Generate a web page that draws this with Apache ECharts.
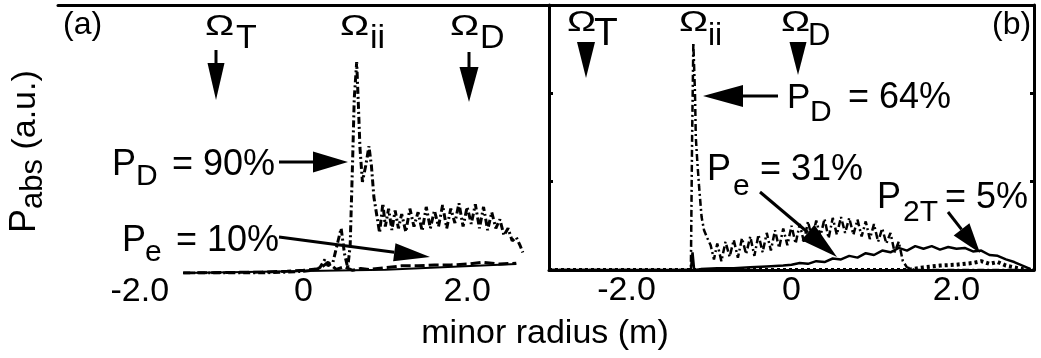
<!DOCTYPE html>
<html>
<head>
<meta charset="utf-8">
<script src="https://cdn.jsdelivr.net/npm/echarts@6/dist/echarts.min.js"></script>
<style>
  html, body { margin: 0; padding: 0; background: #fff; }
  #chart { width: 1041px; height: 358px; }
</style>
</head>
<body>
<div id="chart"></div>
<script>
// tick labels (both panels)
const tickVals = [-2, 0, 2];
const tickLabels = ["-2.0", "0", "2.0"];

// panel (a): P_D (dash-dot)
const aPdX = [-1.47, -1.0, -0.5, -0.2, 0.0, 0.1, 0.2, 0.26, 0.3, 0.36, 0.42, 0.46, 0.5, 0.54, 0.57, 0.6, 0.62, 0.65, 0.67, 0.69, 0.72, 0.76, 0.8, 0.83, 0.86, 0.9, 0.93, 0.97, 1.0, 1.04, 1.08, 1.12, 1.16, 1.2, 1.25, 1.3, 1.35, 1.4, 1.45, 1.5, 1.55, 1.6, 1.65, 1.7, 1.75, 1.8, 1.85, 1.9, 1.95, 2.0, 2.05, 2.1, 2.15, 2.2, 2.25, 2.3, 2.35, 2.4, 2.45, 2.5, 2.55, 2.6, 2.65, 2.68];
const aPdY = [0, 0, 0, 0.01, 0.02, 0.03, 0.06, 0.15, 0.08, 0.12, 0.35, 0.5, 0.22, 0.06, 0.3, 1.25, 1.95, 2.36, 1.9, 1.4, 1.02, 1.2, 1.42, 1.2, 0.85, 0.62, 0.45, 0.78, 0.52, 0.72, 0.48, 0.7, 0.5, 0.66, 0.46, 0.72, 0.52, 0.68, 0.47, 0.74, 0.5, 0.7, 0.52, 0.76, 0.5, 0.72, 0.56, 0.78, 0.52, 0.74, 0.55, 0.77, 0.5, 0.74, 0.48, 0.68, 0.5, 0.6, 0.42, 0.5, 0.36, 0.4, 0.3, 0.23];
// panel (a): P_e (dashed)
const aPeX = [-1.47, -1.0, -0.5, -0.2, 0.0, 0.2, 0.3, 0.4, 0.5, 0.6, 0.7, 0.8, 1.0, 1.2, 1.4, 1.6, 1.8, 2.0, 2.2, 2.4, 2.6];
const aPeY = [0, 0.005, 0.01, 0.02, 0.03, 0.05, 0.12, 0.04, 0.07, 0.03, 0.05, 0.04, 0.06, 0.08, 0.08, 0.09, 0.09, 0.1, 0.12, 0.1, 0.11];
// panel (a): thin solid line
const aTotX = [-1.47, 1.0, 2.6];
const aTotY = [0, 0.035, 0.1];

// panel (b): P_D (dash-dot)
const bPdX = [-2.94, -1.5, -1.22, -1.205, -1.19, -1.17, -1.16, -1.14, -1.12, -1.09, -1.06, -1.02, -0.98, -0.94, -0.9, -0.85, -0.8, -0.75, -0.7, -0.65, -0.6, -0.55, -0.5, -0.45, -0.4, -0.35, -0.3, -0.25, -0.2, -0.15, -0.1, -0.05, 0.0, 0.05, 0.1, 0.15, 0.2, 0.25, 0.3, 0.35, 0.4, 0.45, 0.5, 0.55, 0.6, 0.65, 0.7, 0.75, 0.8, 0.85, 0.9, 0.95, 1.0, 1.05, 1.1, 1.15, 1.2, 1.25, 1.3, 1.35, 1.4, 1.5, 2.94];
const bPdY = [0, 0, 0, 1.5, 2.57, 2.0, 1.5, 1.2, 0.94, 0.6, 0.45, 0.36, 0.28, 0.12, 0.3, 0.1, 0.32, 0.15, 0.34, 0.14, 0.36, 0.18, 0.38, 0.16, 0.4, 0.2, 0.42, 0.22, 0.45, 0.25, 0.47, 0.28, 0.5, 0.3, 0.52, 0.32, 0.55, 0.35, 0.56, 0.38, 0.58, 0.36, 0.59, 0.4, 0.6, 0.42, 0.59, 0.4, 0.57, 0.38, 0.55, 0.35, 0.52, 0.32, 0.47, 0.3, 0.42, 0.2, 0.32, 0.1, 0.03, 0, 0];
// panel (b): P_e (solid)
const bPeX = [-2.94, -1.22, -1.2, -1.18, -1.1, -0.9, -0.7, -0.5, -0.3, -0.1, 0.0, 0.1, 0.2, 0.3, 0.4, 0.5, 0.6, 0.7, 0.8, 0.9, 1.0, 1.1, 1.2, 1.3, 1.4, 1.5, 1.6, 1.7, 1.8, 1.9, 2.0, 2.1, 2.2, 2.3, 2.4, 2.5, 2.6, 2.7, 2.8, 2.9];
const bPeY = [0, 0, 0.2, 0, 0.01, 0.02, 0.02, 0.03, 0.04, 0.05, 0.06, 0.08, 0.07, 0.1, 0.09, 0.13, 0.12, 0.16, 0.14, 0.19, 0.17, 0.22, 0.2, 0.25, 0.22, 0.27, 0.24, 0.27, 0.23, 0.26, 0.24, 0.25, 0.21, 0.22, 0.17, 0.16, 0.12, 0.09, 0.05, 0.01];
// panel (b): P_2T (dotted)
const b2tX = [-2.94, 1.4, 1.6, 1.8, 2.0, 2.2, 2.3, 2.4, 2.5, 2.6, 2.7, 2.8, 2.94];
const b2tY = [0, 0, 0.03, 0.05, 0.06, 0.08, 0.1, 0.07, 0.09, 0.05, 0.03, 0.01, 0];

const zip = (xs, ys) => xs.map((x, i) => [x, ys[i]]);
const FONT = '"Liberation Sans", Arial, sans-serif';
const MID = 0.33;

//text piece placed by its baseline
function txt(s, x, base, size, sx) {
  return {
    type: "text", x: x, y: base - MID * size, z: 100, scaleX: sx || 1,
    style: { text: s, font: size + "px " + FONT, fill: "#000", align: "left", verticalAlign: "middle" },
  };
}
const omega = (x, base) => txt("Ω", x, base, 30, 1.3);

function arrow(x1, y1, x2, y2, len, w, lw) {
  const a = Math.atan2(y2 - y1, x2 - x1);
  const bx = x2 - len * Math.cos(a);
  const by = y2 - len * Math.sin(a);
  const nx = (-Math.sin(a) * w) / 2;
  const ny = (Math.cos(a) * w) / 2;
  const out = [];
  if (Math.hypot(bx - x1, by - y1) > 0.5 && len < Math.hypot(x2 - x1, y2 - y1)) {
    out.push({ type: "line", z: 100, shape: { x1: x1, y1: y1, x2: bx, y2: by }, style: { stroke: "#000", lineWidth: lw } });
  }
  out.push({ type: "polygon", z: 100, shape: { points: [[x2, y2], [bx + nx, by + ny], [bx - nx, by - ny]] }, style: { fill: "#000" } });
  return out;
}

//rotated y axis title
const ctx = document.createElement("canvas").getContext("2d");
function tw(s, size) {
  ctx.font = size + "px " + FONT;
  return ctx.measureText(s).width;
}
function yTitle() {
  const parts = [["P", 36, 0], ["abs", 31, 7], [" (a.u.)", 34, 0]];
  let cx = 0;
  const children = [];
  parts.forEach(([s, size, dy]) => {
    children.push({
      type: "text", x: cx, y: dy - MID * size,
      style: { text: s, font: size + "px " + FONT, fill: "#000", align: "left", verticalAlign: "middle" },
    });
    cx += tw(s, size);
  });
  return { type: "group", x: 37, y: 233, rotation: Math.PI / 2, children: children };
}

const lineSeries = (name, data, xi, yi, type, width) => ({
  name: name,
  type: "line",
  xAxisIndex: xi,
  yAxisIndex: yi,
  data: data,
  showSymbol: false,
  symbol: "none",
  z: 5,
  lineStyle: { color: "#000", width: width, type: type },
});

const labelCfg = (margin) => ({
  customValues: tickVals,
  formatter: (v) => tickLabels[tickVals.indexOf(v)],
  color: "#000",
  fontSize: 34,
  fontFamily: FONT,
  margin: margin,
});

const border = { show: true, onZero: false, lineStyle: { color: "#000", width: 3 } };
const innerTick = { show: true, inside: true, length: 4, lineStyle: { color: "#000", width: 3 } };

let chart = echarts.init(document.getElementById("chart"));
chart.setOption({
  animation: false,
  backgroundColor: "#fff",
  grid: [
    { left: 58, top: 5, width: 491, height: 268 },
    { left: 549, top: 5, width: 485, height: 265 },
  ],
  xAxis: [
    { type: "value", gridIndex: 0, min: -3, max: 3, axisLine: { show: false, onZero: false }, axisTick: { show: false }, splitLine: { show: false }, axisLabel: labelCfg(2) },
    { type: "value", gridIndex: 0, position: "top", min: -3, max: 3, axisLine: border, axisTick: { show: false }, axisLabel: { show: false }, splitLine: { show: false } },
    { type: "value", gridIndex: 1, min: -2.94, max: 2.94, axisLine: border, axisTick: { show: false }, splitLine: { show: false }, axisLabel: labelCfg(4) },
    { type: "value", gridIndex: 1, position: "top", min: -2.94, max: 2.94, axisLine: border, axisTick: { show: false }, axisLabel: { show: false }, splitLine: { show: false } },
  ],
  yAxis: [
    { type: "value", gridIndex: 0, min: 0, max: 3, show: false },
    { type: "value", gridIndex: 1, position: "left", min: 0, max: 3, interval: 1, axisLine: border, axisTick: innerTick, axisLabel: { show: false }, splitLine: { show: false } },
    { type: "value", gridIndex: 1, position: "right", min: 0, max: 3, interval: 1, axisLine: border, axisTick: innerTick, axisLabel: { show: false }, splitLine: { show: false } },
  ],
  series: [
    lineSeries("a total", zip(aTotX, aTotY), 0, 0, "solid", 2),
    lineSeries("a P_e", zip(aPeX, aPeY), 0, 0, [10, 4], 3),
    lineSeries("a P_D", zip(aPdX, aPdY), 0, 0, [7, 3, 2, 3], 3),
    lineSeries("b P_2T", zip(b2tX, b2tY), 2, 1, [3, 3], 4),
    lineSeries("b P_e", zip(bPeX, bPeY), 2, 1, "solid", 2.5),
    lineSeries("b P_D", zip(bPdX, bPdY), 2, 1, [7, 3, 2, 3], 2.5),
  ],
  graphic: [
    // panel (a)
    txt("(a)", 63, 36, 32),
    omega(205, 37), txt("T", 236, 50, 34),
    omega(340, 37), txt("ii", 370, 50, 34),
    omega(450, 37), txt("D", 480, 50, 34),
    ...arrow(216, 50, 216, 100, 37, 17, 3),
    ...arrow(469, 52, 469, 102, 35, 19, 3),
    txt("P", 112, 177, 36), txt("D", 136, 187, 30), txt("= 90%", 172, 177, 36),
    ...arrow(279, 162, 348, 162, 35, 21, 3),
    txt("P", 122, 253, 36), txt("e", 145, 263, 30), txt("= 10%", 176, 253, 36),
    ...arrow(279, 237, 430, 257, 36, 18, 3),
    // panel (b)
    txt("(b)", 992, 36, 32),
    omega(567, 33), txt("T", 594, 47, 39),
    omega(679, 33), txt("ii", 708, 47, 32),
    omega(781, 33), txt("D", 808, 47, 31),
    ...arrow(586, 42, 586, 78, 36, 18, 3),
    ...arrow(798, 42, 798, 75, 33, 17, 3),
    txt("P", 787, 110, 35), txt("D", 810, 123, 30), txt("= 64%", 848, 110, 36),
    ...arrow(778, 96, 703, 96, 40, 22, 3),
    txt("P", 707, 182, 36), txt("e", 733, 197, 30), txt("= 31%", 760, 182, 36),
    ...arrow(760, 192, 837, 257, 38, 20, 3),
    txt("P", 877, 210, 36), txt("2T", 903, 223, 30), txt("= 5%", 945, 210, 36),
    ...arrow(948, 212, 980, 253, 30, 20, 3),
    // axis titles
    {
      type: "text", x: 545, y: 345 - MID * 34, z: 100,
      style: { text: "minor radius (m)", font: "34px " + FONT, fill: "#000", align: "center", verticalAlign: "middle" },
    },
    yTitle(),
  ],
});
</script>
</body>
</html>
